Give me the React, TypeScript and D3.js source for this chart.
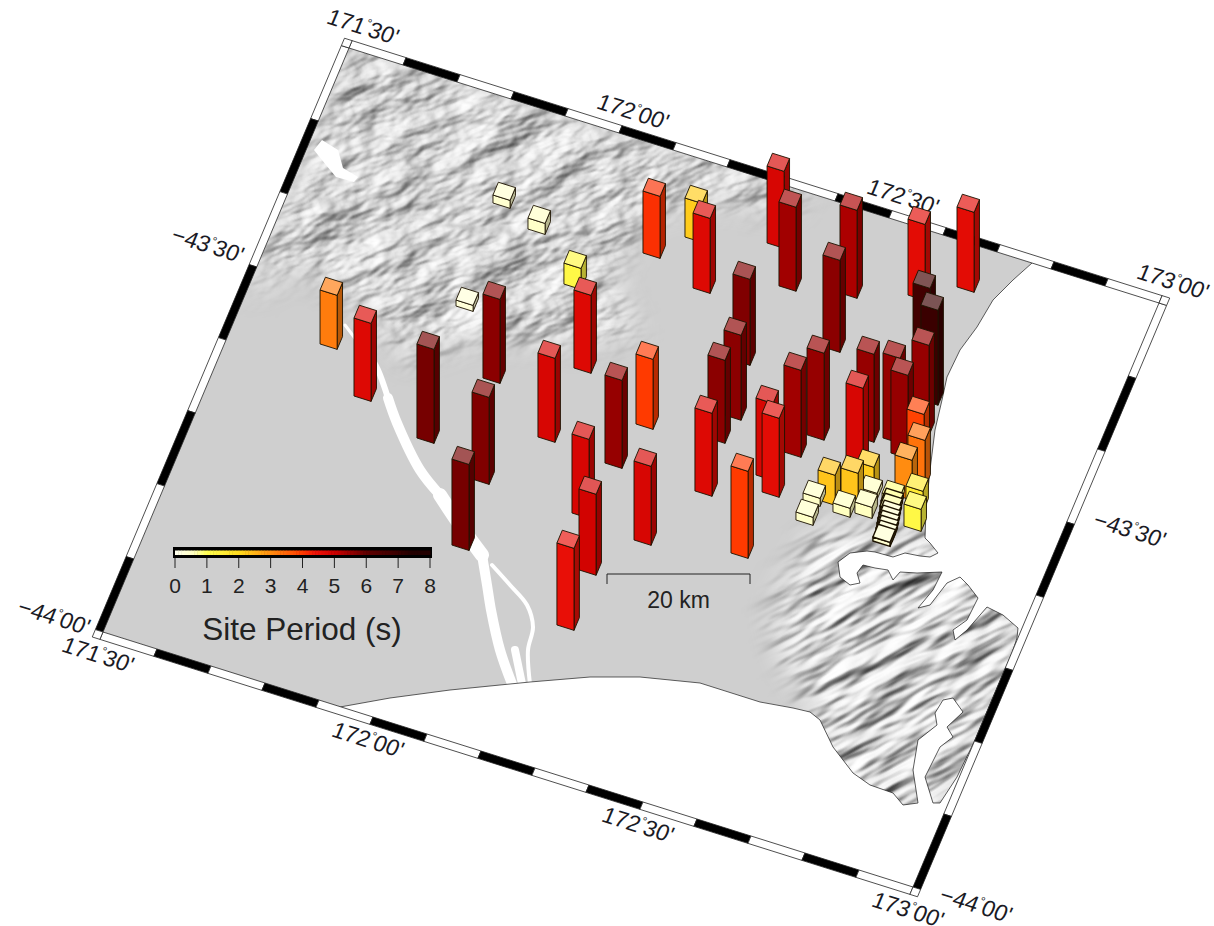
import React from 'react';
import * as d3 from 'd3';

const WIDTH = 1214;
const HEIGHT = 926;

// Map frame: arc-minutes east of 171°30' and south of 43°12'
const lonSegments = d3.range(0, 91, 6);
const latSegments = d3.range(0, 49, 6);
const lonLabels = [
  { lon: 0, text: ['171', "30'"] },
  { lon: 30, text: ['172', "00'"] },
  { lon: 60, text: ['172', "30'"] },
  { lon: 90, text: ['173', "00'"] },
];
const latLabels = [
  { lat: 18, text: ['\u221243', "30'"] },
  { lat: 48, text: ['\u221244', "00'"] },
];

// Site positions (arc-minutes), site period (s), and bar height
const siteLon = [
  9.39, 14.87, 22.78, 26.78, 29.88, 21.16, 20.53, 25.04, 30.84, 35.29, 34.61, 30.64, 41.09, 44.13, 44.24, 42.26,
  43.69, 48.29, 52.24, 58.34, 50.56, 51.95, 51.33, 57.57, 58.87, 59.36, 60.92, 58.85, 65.9, 66.11, 68.5, 69.9,
  71.01, 68.76, 70.65, 65.05, 69.52, 58.29, 52.01, 49.07, 37.31, 40.77, 43.67, 72.18, 72.77, 72.03, 64.69, 66.82,
  68.09, 63.26, 63.35, 66.65, 68.85, 68.56, 70.93, 73.56, 74.2, 71.07, 71.18, 71.33, 71.43, 71.55, 71.66, 71.76,
  71.77,
];
const siteLat = [
  22.14, 25.14, 26.75, 20.89, 28.47, 16.28, 7.96, 9.05, 12.22, 18.08, 23.91, 33.72, 28.65, 32.62, 37.12, 24.27,
  20.73, 29.19, 24.24, 27.92, 13.87, 18.06, 20.1, 21.69, 22.78, 19.38, 17.61, 10.87, 16.62, 19.12, 16.1, 17.01,
  14.86, 10.7, 12.47, 5.16, 3.45, 6.56, 7.44, 4.6, 8.16, 6.04, 9.56, 17.88, 18.73, 19.96, 22.08, 21.34,
  20.47, 22.5, 24.04, 22.61, 22.19, 20.69, 20.55, 20.51, 22.01, 21.0, 21.4, 21.85, 22.24, 22.63, 23.01, 23.39,
  23.81,
];
const sitePeriod = [
  3.2, 4.7, 5.8, 5.6, 5.7, 0.3, 0.4, 0.5, 1.2, 4.7, 4.8, 5.8, 4.8, 4.9, 4.5, 5.5,
  4.0, 4.8, 4.7, 4.0, 5.7, 5.6, 5.6, 4.8, 4.6, 5.4, 5.5, 5.6, 5.5, 4.8, 5.5, 5.5,
  5.5, 6.8, 7.0, 4.6, 4.6, 5.3, 5.4, 4.8, 4.1, 2.2, 4.7, 3.9, 3.3, 3.0, 2.3, 2.3,
  2.2, 0.5, 0.5, 0.6, 0.6, 0.6, 0.8, 1.6, 1.2, 0.8, 0.7, 0.4, 0.4, 0.4, 0.4, 0.4,
  0.4,
];
const siteHeight = [
  54, 78, 94, 84, 87, 6, 8, 11, 21, 78, 84, 86, 79, 81, 82, 88,
  70, 79, 83, 87, 86, 85, 83, 77, 79, 87, 87, 92, 88, 85, 85, 83,
  90, 90, 95, 76, 80, 88, 84, 77, 62, 39, 75, 61, 47, 40, 30, 29,
  28, 8, 8, 9, 11, 6, 6, 20, 22, 4, 4, 3, 3, 3, 3, 3,
  4,
];

const periodStops = [0, 0.6, 1, 2, 3, 4, 4.4, 5, 6, 7, 8];
const periodColors = ['#fffff0', '#ffffc0', '#ffff50', '#ffdc1f', '#ff8c10', '#ff3a00', '#ee1208', '#cc0000', '#600000', '#3a0000', '#000000'];
const periodTicks = d3.range(0, 9);

// Traced basemap outlines, page pixels
const landOutline: [number, number][] = [
  [103, 632], [349, 48], [1032, 263], [1013, 280], [993, 300], [977, 327], [960, 350], [947, 377], [942, 400], [935, 430],
  [930, 470], [926, 510], [925, 538], [930, 543], [938, 553], [930, 557], [920, 556], [905, 553], [893, 557], [875, 552],
  [867, 551], [850, 553], [838, 562], [840, 577], [850, 585], [860, 583], [857, 573], [863, 565], [875, 568], [888, 570],
  [893, 580], [900, 572], [917, 573], [942, 572], [933, 590], [918, 608], [930, 605], [947, 583], [960, 577], [968, 585],
  [978, 598], [967, 620], [953, 630], [955, 640], [967, 630], [987, 607], [1003, 615], [1018, 628], [1017, 638], [1012, 653],
  [975, 740], [957, 777], [940, 803], [933, 803], [925, 777], [940, 747], [953, 737], [947, 727], [963, 712], [953, 698],
  [943, 700], [935, 713], [937, 725], [918, 740], [913, 770], [918, 803], [903, 805], [893, 793], [870, 785], [853, 773],
  [833, 747], [820, 720], [810, 712], [793, 708], [760, 702], [700, 683], [640, 677], [590, 677], [530, 682], [450, 690],
  [390, 698], [340, 707],
];
const hillsNorth: [number, number][] = [
  [349, 40], [810, 185], [790, 215], [720, 200], [650, 215], [610, 280], [640, 335], [560, 345], [480, 335], [410, 360],
  [345, 295], [300, 265], [250, 295], [270, 230], [300, 170],
];
const hillsBanks: [number, number][] = [
  [815, 530], [790, 575], [772, 610], [785, 660], [810, 700], [830, 800], [930, 830], [1040, 640], [960, 530],
];
const riverChannels: { width: number; points: [number, number][] }[] = [
  { width: 3, points: [[345, 325], [360, 345]] },
  { width: 6, points: [[368, 352], [378, 370], [388, 398]] },
  { width: 10, points: [[388, 398], [397, 423], [420, 470], [440, 495]] },
  { width: 14, points: [[440, 495], [460, 525], [482, 555]] },
  { width: 10, points: [[482, 555], [487, 585], [491, 610], [500, 650], [512, 684]] },
  { width: 4, points: [[492, 565], [510, 585], [527, 605], [533, 627], [528, 650], [530, 684]] },
  { width: 8, points: [[515, 650], [522, 684]] },
];
const lakeOutline: [number, number][] = [
  [322, 140], [338, 150], [343, 168], [358, 177], [354, 182], [336, 177], [326, 165], [314, 150],
];

const origin = { x: 349, y: 48 };
const acrossMap = { x: 810, y: 255 };
const downMap = { x: -246, y: 584 };
const lonT = d3.scaleLinear().domain([0, 90]).range([0, 1]);
const latT = d3.scaleLinear().domain([0, 48]).range([0, 1]);
const project = (lon: number, lat: number): [number, number] => [
  origin.x + lonT(lon) * acrossMap.x + latT(lat) * downMap.x,
  origin.y + lonT(lon) * acrossMap.y + latT(lat) * downMap.y,
];

const periodColor = d3.scaleLinear<string>().domain(periodStops).range(periodColors).interpolate(d3.interpolateRgb);
const heightScale = d3.scaleLinear().domain([0, 100]).range([0, 100]);
const legendX = d3.scaleLinear().domain([0, 8]).range([175, 430]);
const kmX = d3.scaleLinear().domain([0, 20]).range([607, 750]);

const line = d3.line();
const closed = (pts: [number, number][]) => line(pts) + 'Z';

const BAND = 8;
const footLon = 1.9;
const footLat = 1.05;
const rotation = (Math.atan2(acrossMap.y, acrossMap.x) * 180) / Math.PI;
const shear = 5.3;

// outward band vectors (unit of the frame edges, times band width)
const uLen = Math.hypot(acrossMap.x, acrossMap.y);
const vLen = Math.hypot(downMap.x, downMap.y);
const bandU: [number, number] = [(acrossMap.x / uLen) * BAND, (acrossMap.y / uLen) * BAND];
const bandV: [number, number] = [(downMap.x / vLen) * BAND, (downMap.y / vLen) * BAND];
const shift = (p: [number, number], d: [number, number], k: number): [number, number] => [p[0] + d[0] * k, p[1] + d[1] * k];

const sites = d3
  .range(siteLon.length)
  .map((i) => ({ lon: siteLon[i], lat: siteLat[i], period: sitePeriod[i], h: heightScale(siteHeight[i]) }))
  .sort((a, b) => d3.ascending(project(a.lon, a.lat)[1], project(b.lon, b.lat)[1]));

const Bar = ({ site }: { site: (typeof sites)[number] }) => {
  const a = project(site.lon, site.lat);
  const b = project(site.lon + footLon, site.lat);
  const c = project(site.lon + footLon, site.lat - footLat);
  const d = project(site.lon, site.lat - footLat);
  const up = (p: [number, number]): [number, number] => [p[0], p[1] - site.h];
  const fill = periodColor(site.period);
  const top = d3.interpolateRgb(fill, '#ffffff')(0.33);
  const side = d3.interpolateRgb(fill, '#000000')(0.28);
  const stroke = { stroke: '#1c1200', strokeWidth: site.h < 5 ? 1.4 : 0.9, strokeLinejoin: 'round' as const };
  return (
    <g>
      <path d={closed([b, c, up(c), up(b)])} fill={side} {...stroke} />
      <path d={closed([a, b, up(b), up(a)])} fill={fill} {...stroke} />
      <path d={closed([up(a), up(b), up(c), up(d)])} fill={top} {...stroke} />
    </g>
  );
};

const FrameLabel = ({ x, y, text }: { x: number; y: number; text: string[] }) => (
  <text
    transform={`translate(${x},${y}) rotate(${rotation}) skewX(${-shear})`}
    textAnchor="middle"
    fontSize={23}
    fill="#1a1a24"
  >
    {text[0]}
    <tspan fontSize={12} dy={-9}>°</tspan>
    <tspan dy={9}>{text[1]}</tspan>
  </text>
);

export default function App() {
  const corners = [project(0, 0), project(90, 0), project(90, 48), project(0, 48)];
  return (
    <svg
      width={WIDTH}
      height={HEIGHT}
      style={{ position: 'absolute', left: 0, top: 0, background: '#fff' }}
      fontFamily="'Liberation Sans', Arial, sans-serif"
    >
      <defs>
        <clipPath id="frameClip"><path d={closed(corners)} /></clipPath>
        <clipPath id="landClip"><path d={closed(landOutline)} /></clipPath>
        <filter id="soft" x="-20%" y="-20%" width="140%" height="140%"><feGaussianBlur stdDeviation="14" /></filter>
        <filter id="softRiver"><feGaussianBlur stdDeviation="0.6" /></filter>
        <filter id="shadeNorth" filterUnits="userSpaceOnUse" x="100" y="-200" width="1000" height="800" colorInterpolationFilters="sRGB">
          <feTurbulence type="fractalNoise" baseFrequency="0.014 0.03" numOctaves="4" seed="7" result="n" />
          <feDiffuseLighting in="n" surfaceScale="8" diffuseConstant="1" lightingColor="#ffffff">
            <feDistantLight azimuth="225" elevation="57" />
          </feDiffuseLighting>
        </filter>
        <filter id="shadeBanks" filterUnits="userSpaceOnUse" x="600" y="350" width="600" height="650" colorInterpolationFilters="sRGB">
          <feTurbulence type="fractalNoise" baseFrequency="0.012 0.045" numOctaves="3" seed="12" result="n" />
          <feDiffuseLighting in="n" surfaceScale="8" diffuseConstant="1" lightingColor="#ffffff">
            <feDistantLight azimuth="250" elevation="57" />
          </feDiffuseLighting>
        </filter>
        <mask id="northMask" maskUnits="userSpaceOnUse" x="0" y="0" width={WIDTH} height={HEIGHT}>
          <path d={closed(hillsNorth)} fill="#fff" filter="url(#soft)" />
        </mask>
        <mask id="banksMask" maskUnits="userSpaceOnUse" x="0" y="0" width={WIDTH} height={HEIGHT}>
          <path d={closed(hillsBanks)} fill="#fff" filter="url(#soft)" />
        </mask>
      </defs>

      {/* basemap */}
      <g clipPath="url(#frameClip)">
        <path d={closed(landOutline)} fill="#cfcfcf" />
        <g clipPath="url(#landClip)">
          <g mask="url(#northMask)">
            <rect x={100} y={-200} width={1000} height={800} filter="url(#shadeNorth)" transform="rotate(-20 500 200)" />
          </g>
          <g mask="url(#banksMask)">
            <rect x={600} y={350} width={600} height={650} filter="url(#shadeBanks)" transform="rotate(-28 900 675)" />
          </g>
          <g filter="url(#softRiver)">
            {riverChannels.map((r, i) => (
              <path
                key={i}
                d={d3.line().curve(d3.curveCatmullRom)(r.points) ?? ''}
                fill="none"
                stroke="#fff"
                strokeWidth={r.width}
                strokeLinecap="round"
              />
            ))}
            <path d={closed(lakeOutline)} fill="#fff" />
          </g>
        </g>
        <path d={line(landOutline.slice(2)) ?? ''} fill="none" stroke="#222" strokeWidth={0.9} strokeOpacity={0.8} />
      </g>

      {/* fancy frame */}
      {lonSegments.slice(0, -1).map((lon, i) => {
        const next = lonSegments[i + 1];
        const color = i % 2 ? '#000' : '#fff';
        const t0 = project(lon, 0);
        const t1 = project(next, 0);
        const b0 = project(lon, 48);
        const b1 = project(next, 48);
        return (
          <g key={lon} stroke="#222" strokeWidth={0.8} fill={color}>
            <path d={closed([t0, t1, shift(t1, bandV, -1), shift(t0, bandV, -1)])} />
            <path d={closed([b0, b1, shift(b1, bandV, 1), shift(b0, bandV, 1)])} />
          </g>
        );
      })}
      {latSegments.slice(0, -1).map((lat, i) => {
        const next = latSegments[i + 1];
        const color = i % 2 ? '#000' : '#fff';
        const l0 = project(0, lat);
        const l1 = project(0, next);
        const r0 = project(90, lat);
        const r1 = project(90, next);
        return (
          <g key={lat} stroke="#222" strokeWidth={0.8} fill={color}>
            <path d={closed([l0, l1, shift(l1, bandU, -1), shift(l0, bandU, -1)])} />
            <path d={closed([r0, r1, shift(r1, bandU, 1), shift(r0, bandU, 1)])} />
          </g>
        );
      })}
      {[[0, 0, -1, -1], [90, 0, 1, -1], [90, 48, 1, 1], [0, 48, -1, 1]].map(([lon, lat, su, sv]) => {
        const p = project(lon, lat);
        const q = shift(p, bandU, su);
        return (
          <path
            key={`${lon}-${lat}`}
            d={closed([p, q, shift(q, bandV, sv), shift(p, bandV, sv)])}
            fill="#fff"
            stroke="#222"
            strokeWidth={0.8}
          />
        );
      })}

      {/* frame labels */}
      {lonLabels.map((d) => {
        const t = project(d.lon, 0);
        const b = project(d.lon, 48);
        return (
          <g key={d.lon}>
            <FrameLabel x={t[0] + 11} y={t[1] - 21 + 7} text={d.text} />
            <FrameLabel x={b[0] - 8} y={b[1] + 23 + 7} text={d.text} />
          </g>
        );
      })}
      {latLabels.map((d) => {
        const l = project(0, d.lat);
        const r = project(90, d.lat);
        const dy = d.lat === 18 ? -22 : -15;
        const ry = d.lat === 18 ? 8 : 18;
        return (
          <g key={d.lat}>
            <FrameLabel x={l[0] - 52} y={l[1] + dy + 7} text={d.text} />
            <FrameLabel x={r[0] + 60} y={r[1] + ry + 7} text={d.text} />
          </g>
        );
      })}

      {/* site bars */}
      {sites.map((s, i) => <Bar key={i} site={s} />)}

      {/* colour scale */}
      <rect x={legendX(0) - 2} y={547} width={legendX(8) - legendX(0) + 4} height={11} fill="#000" />
      {d3.range(0, 8, 0.1).map((p) => (
        <rect
          key={p}
          x={legendX(p)}
          y={550.5}
          width={legendX(0.1) - legendX(0) + 0.5}
          height={4.5}
          fill={periodColor(Math.min(p + 0.05, 7.4))}
        />
      ))}
      {periodTicks.map((t) => (
        <g key={t}>
          <line x1={legendX(t)} x2={legendX(t)} y1={558} y2={568} stroke="#222" strokeWidth={1} />
          <text x={legendX(t)} y={593} textAnchor="middle" fontSize={21} fill="#222">{t}</text>
        </g>
      ))}
      <text x={302} y={640} textAnchor="middle" fontSize={31.5} fill="#222">Site Period (s)</text>

      {/* distance bar */}
      <path
        d={`M${kmX(0)},584V574H${kmX(20)}V584`}
        fill="none"
        stroke="#222"
        strokeWidth={1}
      />
      <text x={kmX(10)} y={608} textAnchor="middle" fontSize={23} fill="#222">20 km</text>
    </svg>
  );
}
